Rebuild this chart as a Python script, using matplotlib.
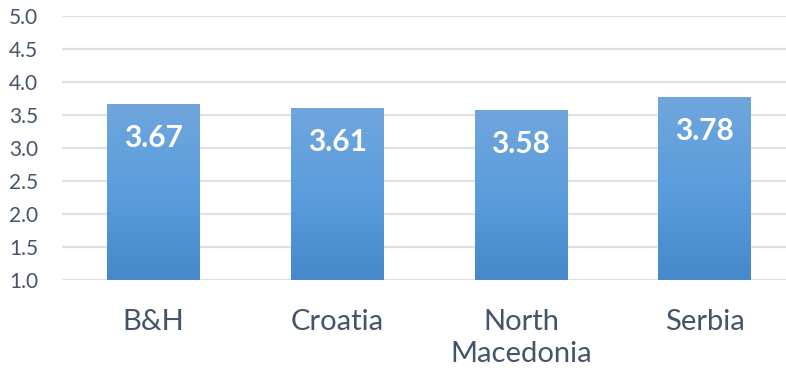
import numpy as np
import matplotlib
matplotlib.use("Agg")
import matplotlib.pyplot as plt
from matplotlib.colors import LinearSegmentedColormap

categories = ["B&H", "Croatia", "North\nMacedonia", "Serbia"]
values = [3.67, 3.61, 3.58, 3.78]
y_ticks = [1.0, 1.5, 2.0, 2.5, 3.0, 3.5, 4.0, 4.5, 5.0]

W, H = 786, 373
fig = plt.figure(figsize=(W / 100, H / 100), dpi=100)
# axes spans the category bands; right band runs past the figure edge
left_px, right_px, top_px, bottom_px = 61.6, 796.5, 16, 280
ax = fig.add_axes([left_px / W, 1 - bottom_px / H,
                   (right_px - left_px) / W, (bottom_px - top_px) / H])

ax.set_ylim(1.0, 5.0)
ax.set_xlim(-0.5, len(categories) - 0.5)

text_color = "#44546a"
grid_color = "#dde1e6"
font = "Lato"

ax.set_yticks(y_ticks)
ax.set_yticklabels([f"{t:.1f}" for t in y_ticks], fontsize=15,
                   color=text_color, family=font)
ax.yaxis.grid(True, color=grid_color, linewidth=1.6)
ax.set_axisbelow(True)
ax.tick_params(axis="y", length=0, pad=17)
ax.tick_params(axis="x", length=0, pad=21)
for s in ax.spines.values():
    s.set_visible(False)

x = np.arange(len(categories))
bar_width = 0.505
bars = ax.bar(x, values, width=bar_width, bottom=0, color="none", zorder=2)

cmap = LinearSegmentedColormap.from_list("barfill", ["#4589ca", "#5b9ddd", "#70a6dc"])
grad = np.linspace(0, 1, 256).reshape(-1, 1)
for b, v in zip(bars, values):
    x0 = b.get_x()
    im = ax.imshow(grad, cmap=cmap, aspect="auto", origin="lower",
                   extent=[x0, x0 + bar_width, 1.0, v], zorder=2,
                   interpolation="bicubic")
    im.set_clip_path(b)
    ax.text(b.get_x() + bar_width / 2, v - 0.52, f"{v:.2f}", ha="center",
            va="center", color="white", fontsize=21.5, fontweight="bold",
            family=font, zorder=3)

ax.set_xticks(x)
ax.set_xticklabels(categories, fontsize=21, color=text_color, family=font,
                   linespacing=1.3, va="top")
ax.set_ylim(1.0, 5.0)
ax.set_xlim(-0.5, len(categories) - 0.5)

fig.savefig("out.png", dpi=100)
